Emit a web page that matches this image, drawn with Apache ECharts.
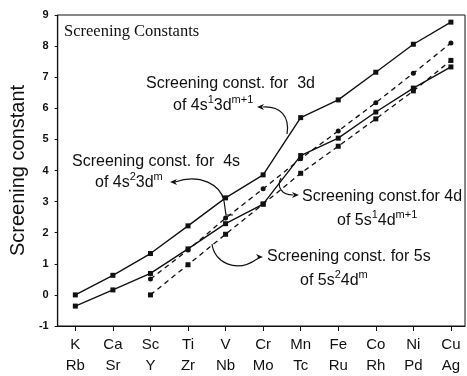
<!DOCTYPE html>
<html>
<head>
<meta charset="utf-8">
<script src="https://cdn.jsdelivr.net/npm/echarts@6/dist/echarts.min.js"></script>
<style>
html,body{margin:0;padding:0;background:#fff;}
#c{width:467px;height:376px;}
</style>
</head>
<body>
<div id="c"></div>
<script>
// ---- data ----
const rowPeriod4 = ['K','Ca','Sc','Ti','V','Cr','Mn','Fe','Co','Ni','Cu'];
const rowPeriod5 = ['Rb','Sr','Y','Zr','Nb','Mo','Tc','Ru','Rh','Pd','Ag'];
const yTicks = [-1,0,1,2,3,4,5,6,7,8,9];
// Screening const. for 3d of 4s1 3d^(m+1)  (solid, upper)
const sc3d = [0.00, 0.63, 1.33, 2.22, 3.12, 3.86, 5.70, 6.27, 7.16, 8.06, 8.77];
// Screening const. for 4d of 5s1 4d^(m+1)  (solid, lower)
const sc4d = [-0.36, 0.16, 0.69, 1.48, 2.29, 2.92, 4.48, 5.04, 5.88, 6.65, 7.33];
// Screening const. for 4s of 4s2 3d^m  (dashed, circles)
const sc4s = [null, null, 0.51, 1.44, 2.47, 3.41, 4.38, 5.27, 6.18, 7.13, 8.10];
// Screening const. for 5s of 5s2 4d^m  (dashed, squares)
const sc5s = [null, null, 0.00, 0.97, 1.95, 2.92, 3.91, 4.78, 5.66, 6.56, 7.54];

const toXY = arr => arr.map((v, i) => v === null ? null : [i, v]).filter(d => d);
const idx = rowPeriod4.map((_, i) => i);

const FONT = '"Liberation Sans", Arial, Helvetica, sans-serif';
const INK = '#111';

const chart = echarts.init(document.getElementById('c'), null, {renderer: 'canvas'});

function label(x, y, text, align) {
  return {
    type: 'text', x: x, y: y, z: 100,
    style: {
      text: text, fill: INK, align: align || 'left', verticalAlign: 'middle',
      rich: {
        n: {fontFamily: FONT, fontSize: 16, lineHeight: 23, fill: INK},
        s: {fontFamily: FONT, fontSize: 11, lineHeight: 11, verticalAlign: 'top', fill: INK}
      }
    }
  };
}
function arrowHead(tx, ty, dir) {
  // dir: 1 = pointing right, -1 = pointing left
  return {
    type: 'polygon', z: 100,
    shape: {points: [[tx, ty], [tx - dir * 7, ty - 3], [tx - dir * 5, ty], [tx - dir * 7, ty + 3]]},
    style: {fill: INK}
  };
}
function curve(x1, y1, c1x, c1y, c2x, c2y, x2, y2) {
  return {
    type: 'bezierCurve', z: 100,
    shape: {x1: x1, y1: y1, cpx1: c1x, cpy1: c1y, cpx2: c2x, cpy2: c2y, x2: x2, y2: y2},
    style: {stroke: INK, lineWidth: 1.2, fill: null}
  };
}

const option = {
  backgroundColor: '#fff',
  animation: false,
  grid: {left: 51, right: 2, top: 15, bottom: 47, show: true, borderColor: INK, borderWidth: 1},
  xAxis: {
    type: 'value', min: -0.47, max: 10.375,
    axisLine: {show: true, onZero: false, lineStyle: {color: INK, width: 1.2}},
    axisTick: {show: true, customValues: idx, length: 5, lineStyle: {color: INK}},
    splitLine: {show: false},
    axisLabel: {
      customValues: idx, margin: 8, color: INK, fontFamily: FONT, fontSize: 15, lineHeight: 21,
      formatter: v => rowPeriod4[Math.round(v)] + '\n' + rowPeriod5[Math.round(v)]
    }
  },
  yAxis: {
    type: 'value', min: -1, max: 9, interval: 1,
    name: 'Screening constant', nameLocation: 'middle', nameGap: 23,
    nameTextStyle: {fontFamily: FONT, fontSize: 20, color: INK},
    axisLine: {show: true, onZero: false, lineStyle: {color: INK, width: 1.2}},
    axisTick: {show: true, length: 3, lineStyle: {color: INK}},
    splitLine: {show: false},
    axisLabel: {margin: 9, color: INK, fontFamily: FONT, fontSize: 11, fontWeight: 'bold',
      formatter: v => String(yTicks[yTicks.indexOf(v)])}
  },
  series: [
    {type: 'line', name: '3d', data: toXY(sc3d), symbol: 'rect', symbolSize: 5,
      lineStyle: {color: INK, width: 1.4}, itemStyle: {color: INK}},
    {type: 'line', name: '4d', data: toXY(sc4d), symbol: 'rect', symbolSize: 5,
      lineStyle: {color: INK, width: 1.4}, itemStyle: {color: INK}},
    {type: 'line', name: '4s', data: toXY(sc4s), symbol: 'circle', symbolSize: 5,
      lineStyle: {color: INK, width: 1.3, type: [5, 4]}, itemStyle: {color: INK}},
    {type: 'line', name: '5s', data: toXY(sc5s), symbol: 'rect', symbolSize: 5,
      lineStyle: {color: INK, width: 1.3, type: [5, 4]}, itemStyle: {color: INK}}
  ],
  graphic: [
    {type: 'text', x: 64, y: 32, z: 100,
      style: {text: 'Screening Constants', fill: INK, verticalAlign: 'middle',
        font: '16.5px "Liberation Serif", "Times New Roman", serif'}},
    label(146, 84, '{n|Screening const. for  3d}'),
    label(173, 106, '{n|of 4s}{s|1}{n|3d}{s|m+1}'),
    curve(287, 134, 290, 116, 280, 106, 263, 107),
    arrowHead(257, 107, -1),

    label(72, 162, '{n|Screening const. for  4s}'),
    label(95, 183, '{n|of 4s}{s|2}{n|3d}{s|m}'),
    curve(175, 182, 200, 173, 221, 185, 224, 201),
    {type: 'polyline', z: 100, shape: {points: [[224, 201], [226, 215], [233, 215]]},
      style: {stroke: INK, lineWidth: 1.2, fill: null}},
    arrowHead(170, 182, -1),

    label(302, 197, '{n|Screening const.for 4d}'),
    label(337, 221, '{n|of 5s}{s|1}{n|4d}{s|m+1}'),
    curve(281, 178, 276, 187, 282, 195, 293, 195),
    arrowHead(299, 195, 1),

    label(267, 257, '{n|Screening const. for 5s}'),
    label(300, 281, '{n|of 5s}{s|2}{n|4d}{s|m}'),
    curve(212, 244, 214, 262, 236, 274, 257, 259),
    arrowHead(263, 257, 1)
  ]
};
chart.setOption(option);
</script>
</body>
</html>
